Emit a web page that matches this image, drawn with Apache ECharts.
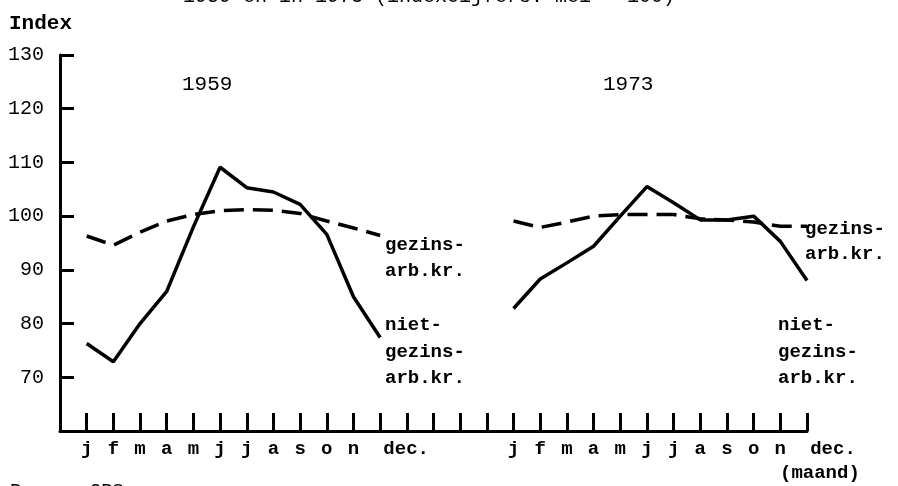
<!DOCTYPE html>
<html>
<head>
<meta charset="utf-8">
<script src="https://cdn.jsdelivr.net/npm/echarts@6/dist/echarts.min.js"></script>
<style>
html,body{margin:0;padding:0;background:#fff;}
#c{width:898px;height:486px;}
</style>
</head>
<body>
<div id="c"></div>
<script>
// ---- data ----
const months = ['j','f','m','a','m','j','j','a','s','o','n','dec.'];
const gapSlots = 4;
const yTicks = [70, 80, 90, 100, 110, 120, 130];
const niet1959   = [76.3, 72.9, 80.0, 86.0, 98.0, 109.1, 105.3, 104.5, 102.2, 96.6, 85.0, 77.4];
const gezins1959 = [96.3, 94.6, 97.0, 99.1, 100.3, 101.0, 101.2, 101.1, 100.5, 99.1, 97.8, 96.4];
const niet1973   = [82.8, 88.3, 91.3, 94.4, 100.0, 105.5, 102.5, 99.3, 99.3, 100.0, 95.3, 88.0];
const gezins1973 = [99.1, 97.9, 98.9, 100.0, 100.3, 100.3, 100.3, 99.5, 99.3, 98.9, 98.1, 98.1];

// ---- build ----
const blanks = n => Array(n).fill('');
const nulls = n => Array(n).fill(null);
const categories = [''].concat(months, blanks(gapSlots), months);
const first = arr => [null].concat(arr, nulls(gapSlots + months.length));
const second = arr => [null].concat(nulls(months.length + gapSlots), arr);

const FONT = 'Liberation Mono';
const txt = {fontFamily: FONT, fontSize: 19, fill: '#000', fontWeight: 'bold'};

const chart = echarts.init(document.getElementById('c'), null, {renderer: 'canvas'});
const lineBase = {type: 'line', symbol: 'none', connectNulls: false, silent: true, animation: false};
chart.setOption({
  animation: false,
  backgroundColor: '#fff',
  grid: {left: 60, right: 91, top: 55, bottom: 55},
  xAxis: {
    type: 'category',
    data: categories,
    boundaryGap: false,
    axisLine: {lineStyle: {color: '#000', width: 3}},
    axisTick: {inside: true, length: 18, interval: 0, lineStyle: {color: '#000', width: 3}},
    axisLabel: {
      interval: 0, margin: 9, color: '#000', fontFamily: FONT, fontSize: 19, fontWeight: 'bold',
      formatter: v => v === 'dec.' ? '{d|dec.}' : v,
      rich: {d: {fontFamily: FONT, fontSize: 19, fontWeight: 'bold', color: '#000', padding: [0, 0, 0, 52]}}
    },
    splitLine: {show: false}
  },
  yAxis: {
    type: 'value', min: 60, max: 130, interval: 10,
    axisLine: {show: true, lineStyle: {color: '#000', width: 3}},
    axisTick: {show: true, inside: true, length: 14, lineStyle: {color: '#000', width: 3}},
    axisLabel: {
      margin: 16, color: '#000', fontFamily: FONT, fontSize: 20,
      formatter: v => yTicks.indexOf(v) >= 0 ? String(v) : ''
    },
    splitLine: {show: false}
  },
  series: [
    Object.assign({}, lineBase, {name: 'gezins 1959', data: first(gezins1959),
      lineStyle: {color: '#000', width: 3.5, type: [20, 9]}}),
    Object.assign({}, lineBase, {name: 'gezins 1973', data: second(gezins1973),
      lineStyle: {color: '#000', width: 3.5, type: [20, 9]}}),
    Object.assign({}, lineBase, {name: 'niet 1959', data: first(niet1959),
      lineStyle: {color: '#000', width: 3.5}}),
    Object.assign({}, lineBase, {name: 'niet 1973', data: second(niet1973),
      lineStyle: {color: '#000', width: 3.5}})
  ],
  graphic: [
    {type: 'text', left: 183, top: -13, style: Object.assign({}, txt, {fontSize: 20, fontWeight: 'normal', text: '1959 en in 1973 (indexcijfers: mei = 100)'})},
    {type: 'text', left: 9, top: 13, style: Object.assign({}, txt, {fontSize: 21, text: 'Index'})},
    {type: 'text', left: 182, top: 74, style: Object.assign({}, txt, {fontSize: 21, fontWeight: 'normal', text: '1959'})},
    {type: 'text', left: 603, top: 74, style: Object.assign({}, txt, {fontSize: 21, fontWeight: 'normal', text: '1973'})},
    {type: 'text', left: 385, top: 232, style: Object.assign({}, txt, {text: 'gezins-\narb.kr.', lineHeight: 26})},
    {type: 'text', left: 385, top: 312, style: Object.assign({}, txt, {text: 'niet-\ngezins-\narb.kr.', lineHeight: 26.5})},
    {type: 'text', left: 805, top: 217, style: Object.assign({}, txt, {text: 'gezins-\narb.kr.', lineHeight: 25})},
    {type: 'text', left: 778, top: 312, style: Object.assign({}, txt, {text: 'niet-\ngezins-\narb.kr.', lineHeight: 26.5})},
    {type: 'text', left: 780, top: 464, style: Object.assign({}, txt, {text: '(maand)'})},
    {type: 'text', left: 10, top: 481, style: Object.assign({}, txt, {fontWeight: 'normal', text: 'Bron : CBS'})}
  ]
});
</script>
</body>
</html>
